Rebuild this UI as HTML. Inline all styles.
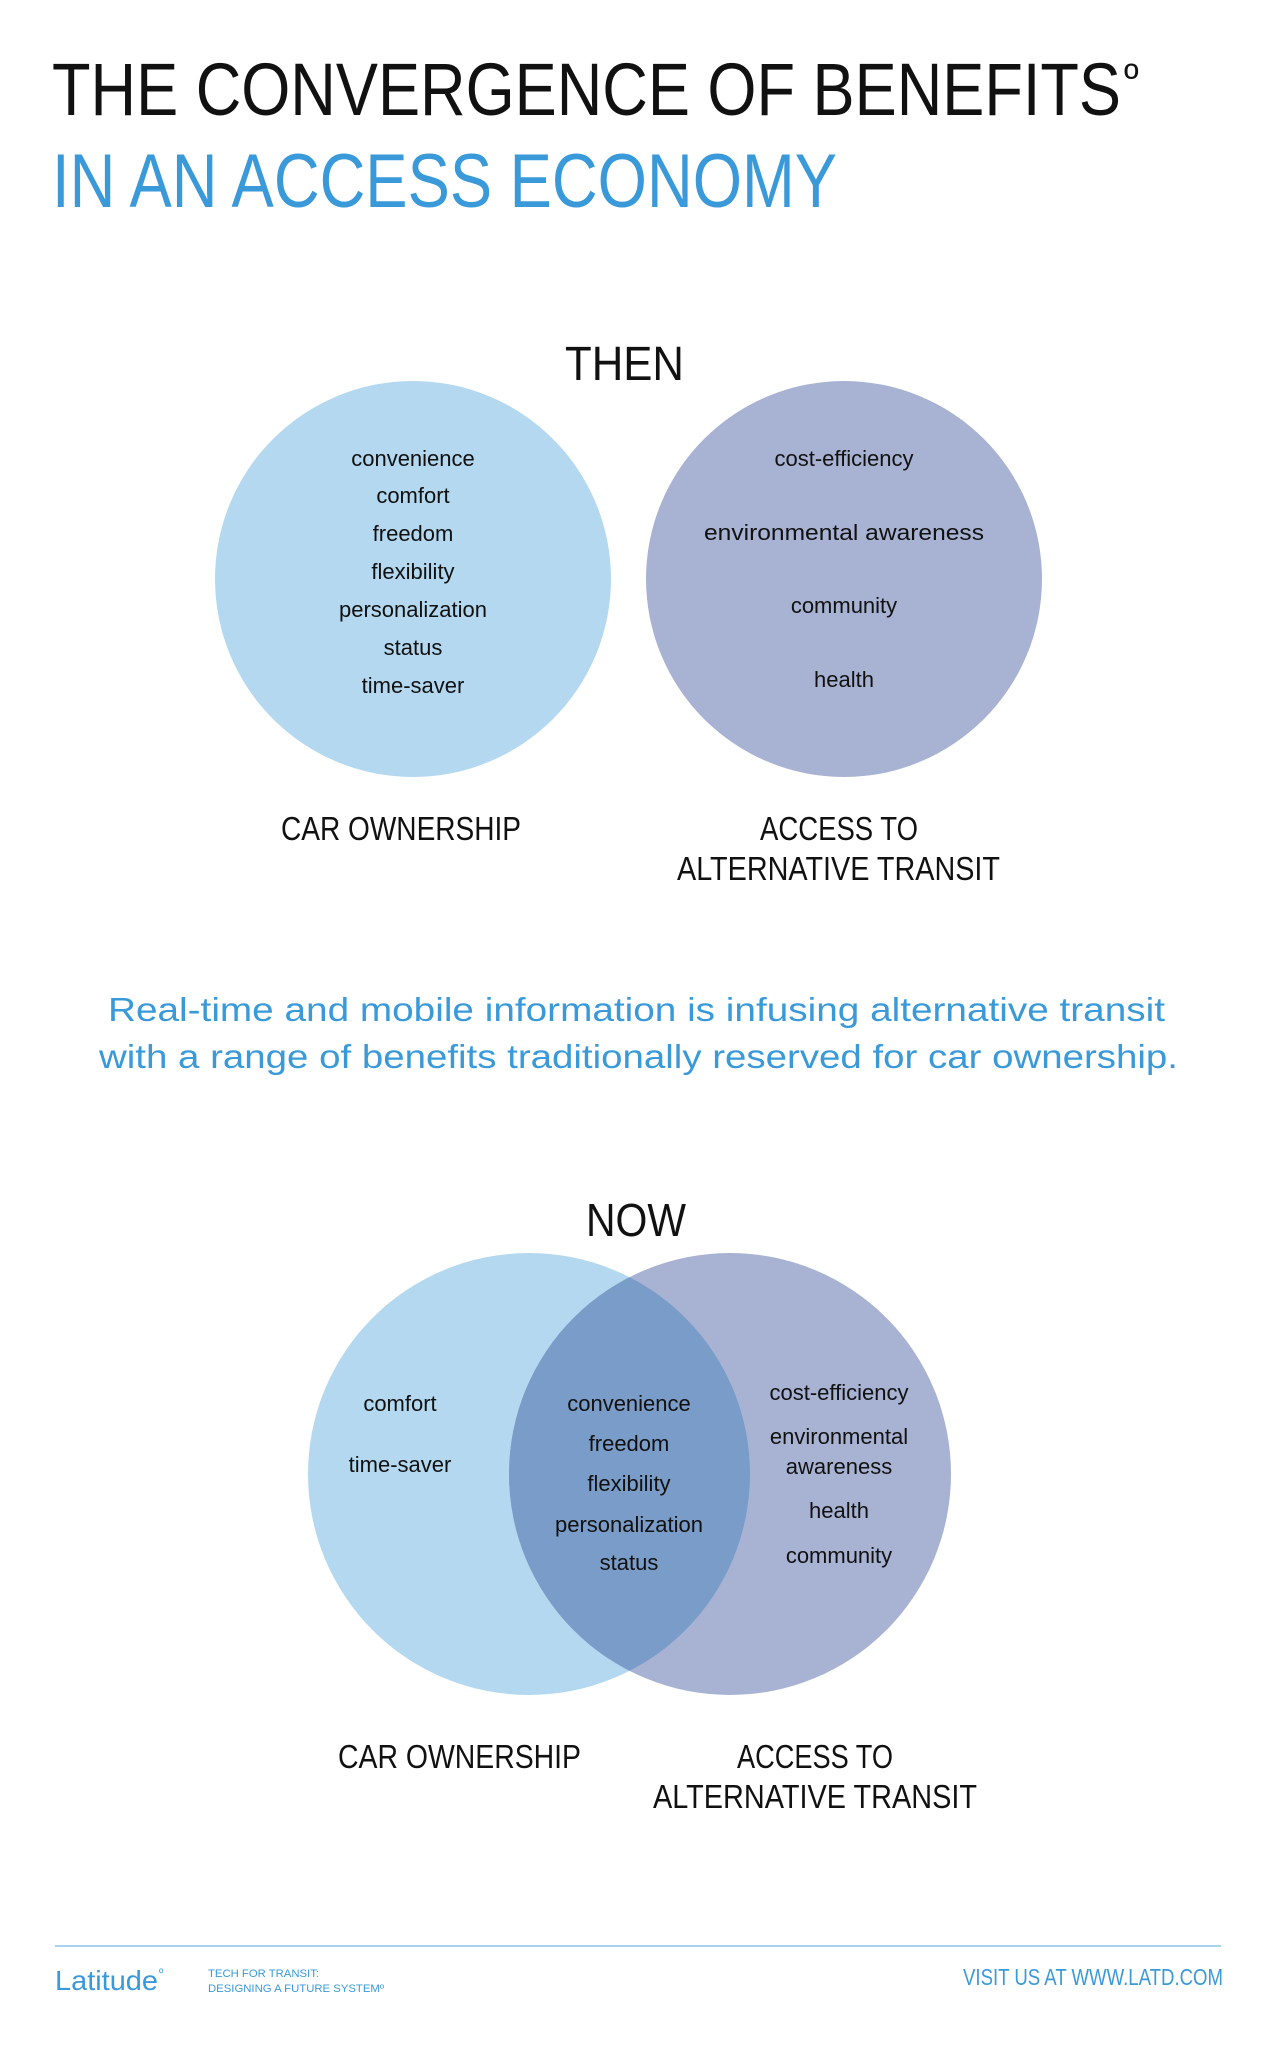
<!DOCTYPE html>
<html><head><meta charset="utf-8"><style>
html,body{margin:0;padding:0;background:#fff;}
svg{display:block;}
text{font-family:"Liberation Sans",sans-serif;}
</style></head><body>
<svg width="1275" height="2050" viewBox="0 0 1275 2050" xmlns="http://www.w3.org/2000/svg">
<rect width="1275" height="2050" fill="#fff"/>
<text x="52" y="115" font-size="74" fill="#111" textLength="1069" lengthAdjust="spacingAndGlyphs">THE CONVERGENCE OF BENEFITS</text>
<text x="1124" y="92" font-size="40" fill="#111">º</text>
<text x="52" y="207" font-size="76" fill="#3a9ad9" textLength="785" lengthAdjust="spacingAndGlyphs">IN AN ACCESS ECONOMY</text>

<text x="565" y="380" font-size="48" fill="#111" textLength="119" lengthAdjust="spacingAndGlyphs">THEN</text>
<circle cx="413" cy="579" r="198" fill="#b3d8f0"/>
<circle cx="844" cy="579" r="198" fill="#a8b3d3"/>
<g font-size="22" fill="#111" text-anchor="middle">
<text x="413" y="466">convenience</text>
<text x="413" y="503">comfort</text>
<text x="413" y="541">freedom</text>
<text x="413" y="579">flexibility</text>
<text x="413" y="617">personalization</text>
<text x="413" y="655">status</text>
<text x="413" y="693">time-saver</text>
<text x="844" y="466">cost-efficiency</text>
<text x="844" y="540" textLength="280" lengthAdjust="spacingAndGlyphs">environmental awareness</text>
<text x="844" y="613">community</text>
<text x="844" y="687">health</text>
</g>
<g font-size="33" fill="#111">
<text x="281" y="840" textLength="240" lengthAdjust="spacingAndGlyphs">CAR OWNERSHIP</text>
<text x="760" y="840" textLength="158" lengthAdjust="spacingAndGlyphs">ACCESS TO</text>
<text x="677" y="880" textLength="323" lengthAdjust="spacingAndGlyphs">ALTERNATIVE TRANSIT</text>
</g>

<g font-size="33" fill="#3a9ad9">
<text x="108" y="1021" textLength="1057" lengthAdjust="spacingAndGlyphs">Real-time and mobile information is infusing alternative transit</text>
<text x="99" y="1068" textLength="1079" lengthAdjust="spacingAndGlyphs">with a range of benefits traditionally reserved for car ownership.</text>
</g>

<text x="586" y="1236" font-size="46" fill="#111" textLength="100" lengthAdjust="spacingAndGlyphs">NOW</text>
<defs><clipPath id="lc"><circle cx="529" cy="1474" r="221"/></clipPath></defs>
<circle cx="529" cy="1474" r="221" fill="#b3d8f0"/>
<circle cx="730" cy="1474" r="221" fill="#a8b3d3"/>
<circle cx="730" cy="1474" r="221" fill="#7a9cc8" clip-path="url(#lc)"/>
<g font-size="22" fill="#111" text-anchor="middle">
<text x="400" y="1411">comfort</text>
<text x="400" y="1472">time-saver</text>
<text x="629" y="1411">convenience</text>
<text x="629" y="1451">freedom</text>
<text x="629" y="1491">flexibility</text>
<text x="629" y="1532">personalization</text>
<text x="629" y="1570">status</text>
<text x="839" y="1400">cost-efficiency</text>
<text x="839" y="1444">environmental</text>
<text x="839" y="1474">awareness</text>
<text x="839" y="1518">health</text>
<text x="839" y="1563">community</text>
</g>
<g font-size="33" fill="#111">
<text x="338" y="1768" textLength="243" lengthAdjust="spacingAndGlyphs">CAR OWNERSHIP</text>
<text x="737" y="1768" textLength="156" lengthAdjust="spacingAndGlyphs">ACCESS TO</text>
<text x="653" y="1808" textLength="324" lengthAdjust="spacingAndGlyphs">ALTERNATIVE TRANSIT</text>
</g>

<rect x="55" y="1945" width="1166" height="2" fill="#a8d4ef"/>
<text x="55" y="1990" font-size="28" fill="#3a9ad9" textLength="103" lengthAdjust="spacingAndGlyphs">Latitude</text>
<text x="159" y="1977" font-size="12" fill="#3a9ad9">º</text>
<text x="208" y="1977" font-size="11" fill="#3a9ad9" textLength="111" lengthAdjust="spacingAndGlyphs">TECH FOR TRANSIT:</text>
<text x="208" y="1992" font-size="11" fill="#3a9ad9" textLength="176" lengthAdjust="spacingAndGlyphs">DESIGNING A FUTURE SYSTEMº</text>
<text x="963" y="1985" font-size="23" fill="#3a9ad9" textLength="260" lengthAdjust="spacingAndGlyphs">VISIT US AT WWW.LATD.COM</text>
</svg>
</body></html>
